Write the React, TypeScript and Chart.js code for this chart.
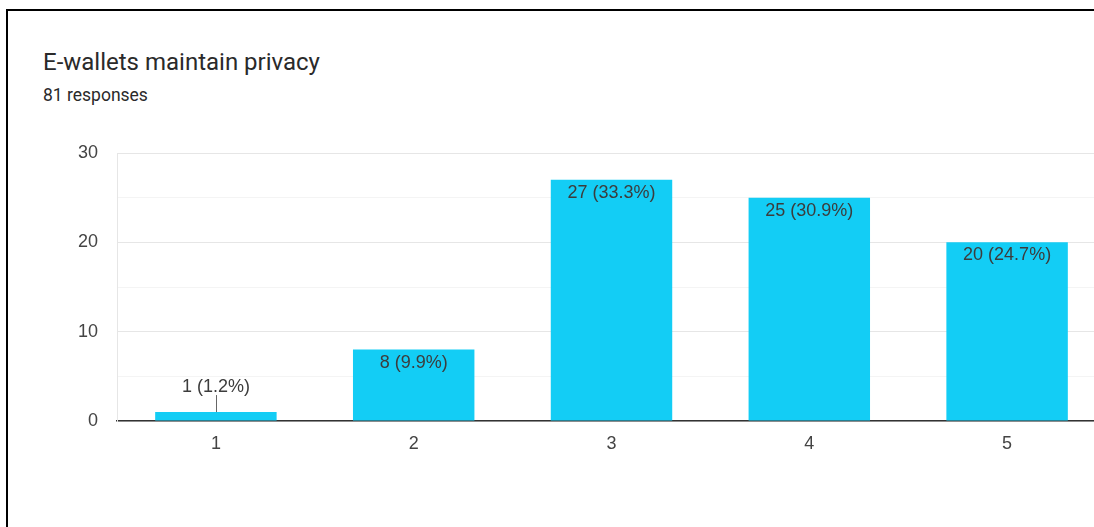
import React, { useEffect, useRef } from "react";
import { Chart, registerables } from "chart.js";

Chart.register(...registerables);

const categories = ["1", "2", "3", "4", "5"];
const counts = [1, 8, 27, 25, 20];
const percents = ["1.2%", "9.9%", "33.3%", "30.9%", "24.7%"];
const yTickValues = [0, 10, 20, 30];

const BAR_COLOR = "#13CDF5";
const FONT_FAMILY = '"Liberation Sans", Arial, sans-serif';
const LABEL_FONT = `18px ${FONT_FAMILY}`;

const barLabels = {
  id: "barLabels",
  afterDatasetsDraw(chart: any) {
    const ctx = chart.ctx;
    const meta = chart.getDatasetMeta(0);
    ctx.save();
    ctx.font = LABEL_FONT;
    ctx.fillStyle = "#3c3c3c";
    ctx.textAlign = "center";
    ctx.textBaseline = "middle";
    meta.data.forEach((bar: any, i: number) => {
      const text = `${counts[i]} (${percents[i]})`;
      const h = bar.base - bar.y;
      if (h > 30) {
        ctx.fillText(text, bar.x, bar.y + 13);
      } else {
        ctx.strokeStyle = "#666";
        ctx.lineWidth = 1;
        ctx.beginPath();
        ctx.moveTo(Math.round(bar.x) + 0.5, bar.y);
        ctx.lineTo(Math.round(bar.x) + 0.5, bar.y - 17);
        ctx.stroke();
        ctx.fillText(text, bar.x, bar.y - 25);
      }
    });
    ctx.restore();
  },
};

export default function App() {
  const canvasRef = useRef<HTMLCanvasElement | null>(null);

  useEffect(() => {
    document.body.style.margin = "0";
    document.body.style.overflow = "hidden";
    const chart = new Chart(canvasRef.current as HTMLCanvasElement, {
      type: "bar",
      data: {
        labels: categories,
        datasets: [
          {
            data: counts,
            backgroundColor: BAR_COLOR,
            borderWidth: 0,
            barPercentage: 0.614,
            categoryPercentage: 1,
          },
        ],
      },
      options: {
        animation: false,
        responsive: false,
        maintainAspectRatio: false,
        layout: { padding: { top: 153, right: 4, bottom: 0, left: 0 } },
        plugins: {
          legend: { display: false },
          tooltip: { enabled: false },
        },
        scales: {
          x: {
            grid: { display: false, drawTicks: false },
            border: { display: true, color: "#333", width: 1.5 },
            ticks: {
              padding: 12,
              color: "#444",
              font: { family: FONT_FAMILY, size: 18 },
            },
            afterFit(scale: any) {
              scale.height = 106;
            },
          },
          y: {
            min: 0,
            max: 30,
            ticks: {
              stepSize: 5,
              padding: 19,
              color: "#444",
              font: { family: FONT_FAMILY, size: 18 },
              callback: (v: any) => (yTickValues.includes(Number(v)) ? String(v) : ""),
            },
            grid: {
              drawTicks: false,
              color: (c: any) =>
                yTickValues.includes(c.tick?.value) ? "#e6e6e6" : "#f4f4f4",
              lineWidth: 1,
            },
            border: { display: true, color: "#e6e6e6" },
            afterFit(scale: any) {
              scale.width = 117;
            },
          },
        },
      },
      plugins: [barLabels],
    });
    return () => chart.destroy();
  }, []);

  return (
    <div
      style={{
        position: "fixed",
        left: 0,
        top: 0,
        width: 1094,
        height: 527,
        overflow: "hidden",
        background: "#fff",
      }}
    >
      <div
        style={{
          position: "absolute",
          left: 6,
          top: 9,
          width: 1200,
          height: 700,
          border: "2px solid #000",
        }}
      />
      <div
        style={{
          position: "absolute",
          left: 43,
          top: 47,
          fontFamily: "Roboto, sans-serif",
          fontSize: 24,
          lineHeight: "30px",
          color: "#2a2a2a",
          whiteSpace: "nowrap",
        }}
      >
        E-wallets maintain privacy
      </div>
      <div
        style={{
          position: "absolute",
          left: 43,
          top: 85,
          fontFamily: "Roboto, sans-serif",
          fontSize: 17.5,
          lineHeight: "20px",
          color: "#2a2a2a",
          whiteSpace: "nowrap",
        }}
      >
        81 responses
      </div>
      <canvas
        ref={canvasRef}
        width={1110}
        height={527}
        style={{ position: "absolute", left: 0, top: 0, width: 1110, height: 527 }}
      />
    </div>
  );
}
